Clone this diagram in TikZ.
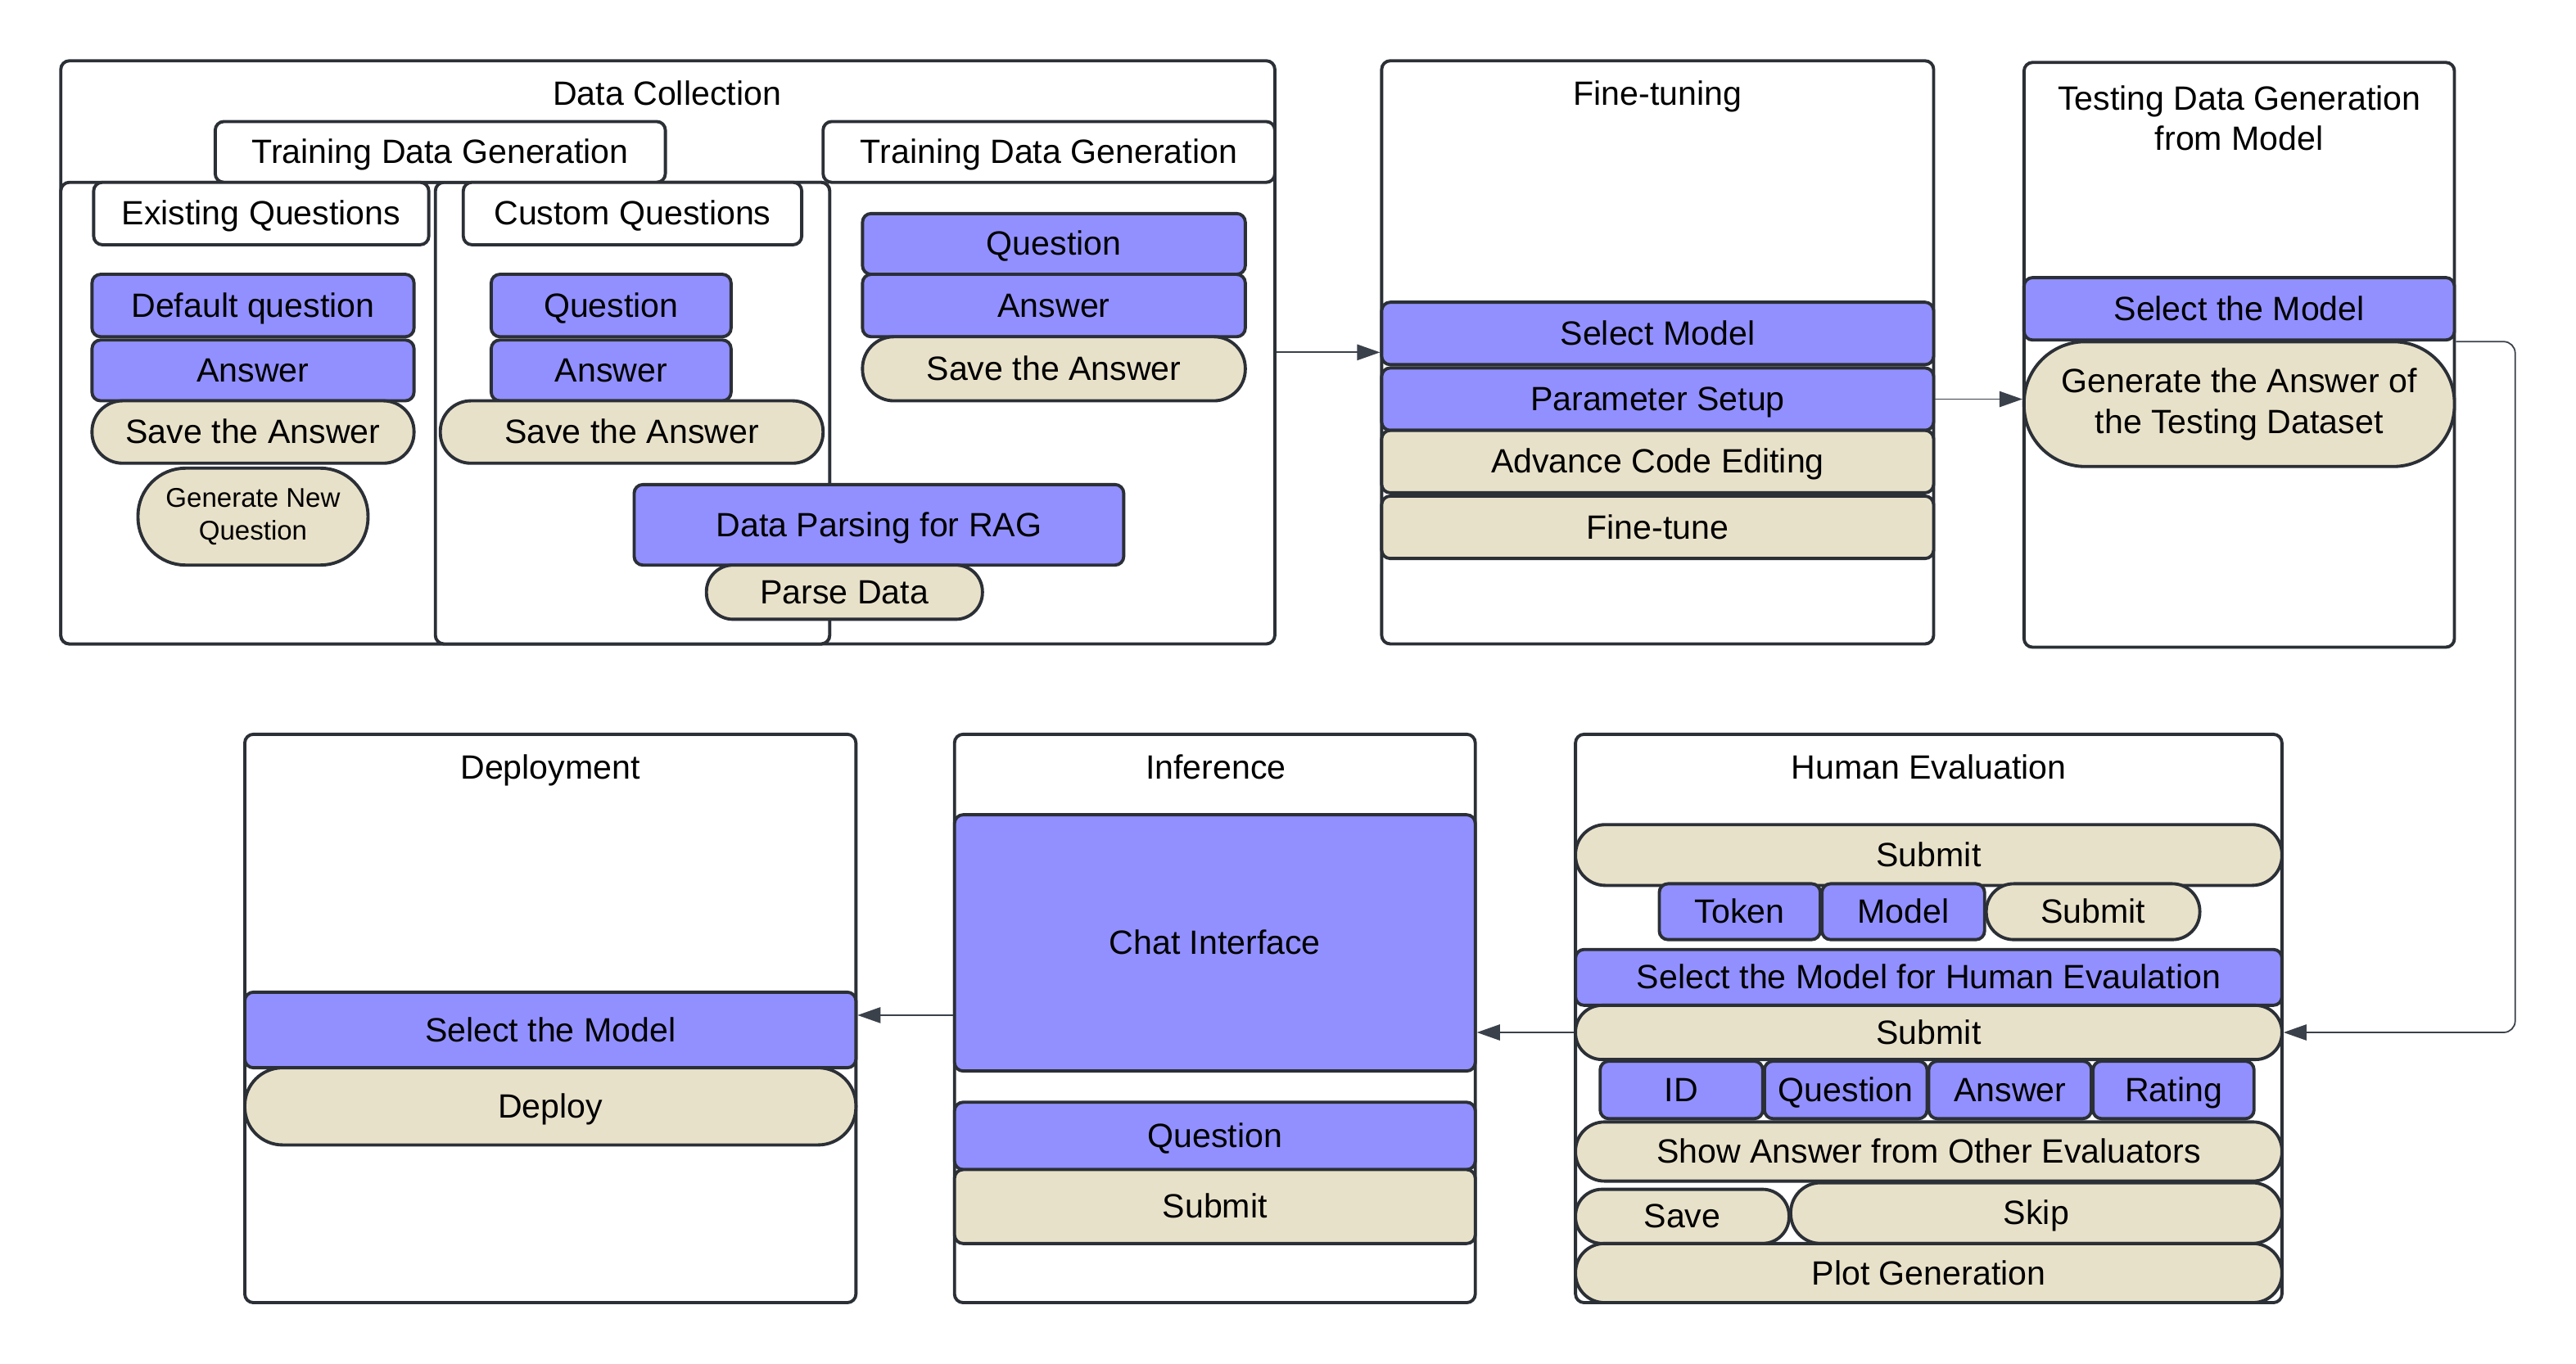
\documentclass[tikz,border=0pt]{standalone}
\usepackage{fontspec}
\setmainfont{Liberation Sans}
\usetikzlibrary{arrows.meta}
\definecolor{lineclr}{HTML}{2B2F36}
\definecolor{arrowclr}{HTML}{3A414A}
\definecolor{uiblue}{HTML}{9290FF}
\definecolor{uibeige}{HTML}{E8E1C9}
\newcommand\uiunit{0.020064cm}
% box from its corners: style, name, x1, y1, x2, y2, text
\newcommand\uibox[7]{%
  \node[#1, minimum width={(#5-#3)*\uiunit}, minimum height={(#6-#4)*\uiunit}]
    (#2) at ({(#3+#5)/2},{(#4+#6)/2}) {#7};}
% same, with ends rounded off
\newcommand\uipill[7]{%
  \node[#1, minimum width={(#5-#3)*\uiunit}, minimum height={(#6-#4)*\uiunit},
    rounded corners={(#6-#4)*0.49*\uiunit}]
    (#2) at ({(#3+#5)/2},{(#4+#6)/2}) {#7};}
\tikzset{
  panel/.style={draw=lineclr, line width=1.1pt, rounded corners=3pt, fill=white, inner sep=0pt},
  bluebox/.style={panel, fill=uiblue},
  beigebox/.style={panel, fill=uibeige},
  heading/.style={inner sep=0pt, align=center},
  flow/.style={draw=arrowclr, line width=0.5pt, -{Triangle[length=8pt,width=5.5pt]}},
}
\begin{document}
\begin{tikzpicture}[
    x=0.020064cm, y=-0.020064cm,
    every node/.style={font=\fontsize{11.7pt}{14pt}\selectfont, text height=9pt, text depth=1pt}
  ]
  \useasboundingbox (0,0) rectangle (1568,830);

  % data collection
  \uibox{panel}{dc}{37}{37}{776}{392}{}
  \node[heading] (dctitle) at (406,57) {Data Collection};
  \uibox{panel}{dcexist}{37}{111}{505}{392}{}
  \uibox{panel}{dccustom}{265}{111}{505}{392}{}
  \uibox{panel}{dctab}{131}{74}{405}{111}{Training Data Generation}
  \uibox{panel}{dctabr}{501}{74}{776}{111}{Training Data Generation}
  \uibox{panel}{dcexisttab}{57}{111}{261}{149}{Existing Questions}
  \uibox{panel}{dccustomtab}{282}{111}{488}{149}{Custom Questions}

  \uibox{bluebox}{exq}{56}{167}{252}{205}{Default question}
  \uibox{bluebox}{exa}{56}{207}{252}{244}{Answer}
  \uipill{beigebox}{exsave}{56}{244}{252}{282}{Save the Answer}
  \uipill{beigebox, align=center, text height=, text depth=, font=\fontsize{9.4pt}{11.4pt}\selectfont}{exgen}{84}{285}{224}{344}{Generate New\\Question}

  \uibox{bluebox}{cuq}{299}{167}{445}{205}{Question}
  \uibox{bluebox}{cua}{299}{207}{445}{244}{Answer}
  \uipill{beigebox}{cusave}{268}{244}{501}{282}{Save the Answer}

  \uibox{bluebox}{rtq}{525}{130}{758}{167}{Question}
  \uibox{bluebox}{rta}{525}{167}{758}{205}{Answer}
  \uipill{beigebox}{rtsave}{525}{205}{758}{244}{Save the Answer}

  \uibox{bluebox}{rag}{386}{295}{684}{344}{Data Parsing for RAG}
  \uipill{beigebox}{parse}{430}{344}{598}{377}{Parse Data}

  % fine-tuning
  \uibox{panel}{ft}{841}{37}{1177}{392}{}
  \node[heading] (fttitle) at (1009,57) {Fine-tuning};
  \uibox{bluebox}{ftselect}{841}{184}{1177}{222}{Select Model}
  \uibox{bluebox}{ftparam}{841}{224}{1177}{262}{Parameter Setup}
  \uibox{beigebox}{ftcode}{841}{262}{1177}{300}{Advance Code Editing}
  \uibox{beigebox}{fttune}{841}{302}{1177}{340}{Fine-tune}

  % testing data
  \uibox{panel}{td}{1232}{38}{1494}{394}{}
  \node[heading, text height=, text depth=, font=\fontsize{11.7pt}{13.9pt}\selectfont] (tdtitle) at (1363,72)
    {Testing Data Generation\\from Model};
  \uibox{bluebox}{tdselect}{1232}{169}{1494}{207}{Select the Model}
  \uipill{beigebox, align=center, text height=, text depth=, font=\fontsize{11.7pt}{14.2pt}\selectfont}{tdgen}{1232}{208}{1494}{284}{Generate the Answer of\\the Testing Dataset}

  % human evaluation
  \uibox{panel}{he}{959}{447}{1389}{793}{}
  \node[heading] (hetitle) at (1174,467) {Human Evaluation};
  \uipill{beigebox}{hesubmit}{959}{502}{1389}{539}{Submit}
  \uibox{bluebox}{hetoken}{1010}{538}{1108}{572}{Token}
  \uibox{bluebox}{hemodel}{1109}{538}{1208}{572}{Model}
  \uipill{beigebox}{hesubmitb}{1209}{538}{1339}{572}{Submit}
  \uibox{bluebox}{heselect}{959}{578}{1389}{612}{Select the Model for Human Evaulation}
  \uipill{beigebox}{hesubmitc}{959}{612}{1389}{645}{Submit}
  \uibox{bluebox}{heid}{974}{646}{1073}{681}{ID}
  \uibox{bluebox}{heq}{1074}{646}{1173}{681}{Question}
  \uibox{bluebox}{hea}{1174}{646}{1273}{681}{Answer}
  \uibox{bluebox}{herating}{1274}{646}{1372}{681}{Rating}
  \uipill{beigebox}{heshow}{959}{683}{1389}{719}{Show Answer from Other Evaluators}
  \uipill{beigebox}{hesave}{959}{724}{1089}{757}{Save}
  \uipill{beigebox}{heskip}{1090}{720}{1389}{757}{Skip}
  \uipill{beigebox}{heplot}{959}{757}{1389}{793}{Plot Generation}

  % inference
  \uibox{panel}{inf}{581}{447}{898}{793}{}
  \node[heading] (inftitle) at (740,467) {Inference};
  \uibox{bluebox}{infchat}{581}{496}{898}{652}{Chat Interface}
  \uibox{bluebox}{infq}{581}{671}{898}{712}{Question}
  \uibox{beigebox}{infsubmit}{581}{712}{898}{757}{Submit}

  % deployment
  \uibox{panel}{dep}{149}{447}{521}{793}{}
  \node[heading] (deptitle) at (335,467) {Deployment};
  \uibox{bluebox}{depselect}{149}{604}{521}{650}{Select the Model}
  \uipill{beigebox}{depdeploy}{149}{650}{521}{697}{Deploy}

  % connectors
  \coordinate (infarr) at (0,618);
  \draw[flow] (dc.east) -- (ft.west);
  \draw[flow] (ftparam.east) -- (ftparam.east -| td.west);
  \draw[flow, rounded corners=4pt] (tdselect.south east) -- ++(36,0) |- (hesubmitc.east);
  \draw[flow] (he.west |- hesubmitc.west) -- (inf.east |- hesubmitc.west);
  \draw[flow] (inf.west |- infarr) -- (dep.east |- infarr);
\end{tikzpicture}
\end{document}
